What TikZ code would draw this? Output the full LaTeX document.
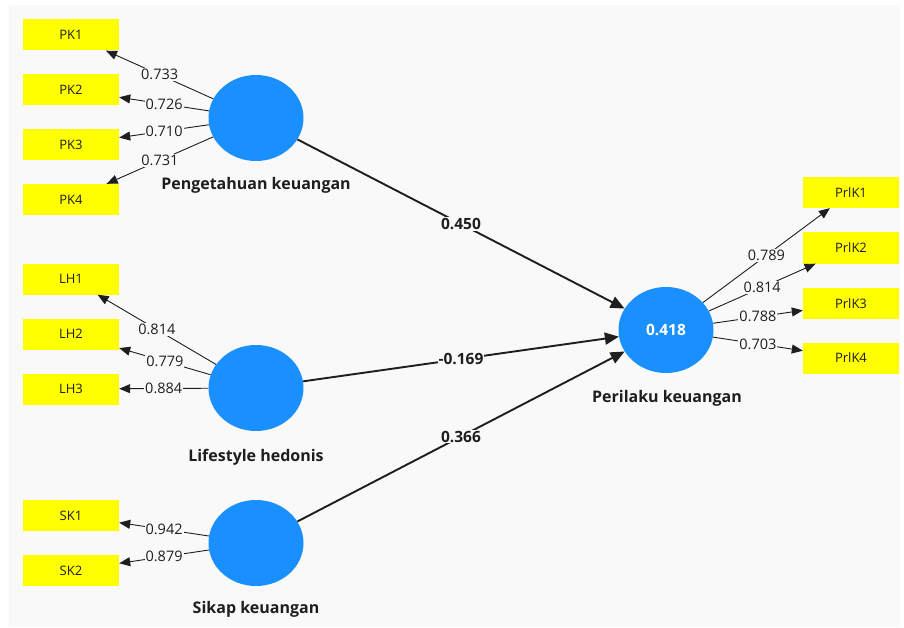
\documentclass[tikz,border=0pt]{standalone}
\usepackage{fontspec}
\setmainfont{Open Sans}
\usetikzlibrary{arrows.meta,shapes.geometric}
\definecolor{panel}{HTML}{F9F9F9}
\definecolor{lvblue}{HTML}{1A90FF}
\definecolor{indyellow}{HTML}{FFFF00}
\definecolor{txt}{HTML}{1E1E1E}
\tikzset{
  ind/.style={rectangle, fill=indyellow, minimum width=96pt, minimum height=31pt, inner sep=0pt, font=\fontsize{13}{15}\selectfont, text=txt},
  lv/.style={ellipse, fill=lvblue, minimum width=95pt, minimum height=86pt, inner sep=0pt},
  lvname/.style={font=\fontsize{16}{18}\bfseries\selectfont, text=txt},
  load/.style={draw=txt, line width=0.9pt, -{Triangle[length=11pt,width=9pt]}},
  path/.style={draw=txt, line width=1.9pt, -{Triangle[length=14pt,width=12pt]}},
  lbl/.style={fill=panel, inner sep=1pt, font=\fontsize{14.5}{16}\selectfont, text=txt},
  plbl/.style={fill=panel, inner sep=1pt, font=\fontsize{15.5}{17}\bfseries\selectfont, text=txt}
}
\begin{document}
\begin{tikzpicture}[x=1pt,y=-1pt]
\useasboundingbox (0,0) rectangle (904,628);
\fill[panel] (9,5) rectangle (900,627);
% latent variables
\node[lv] (PK) at (256,118) {};
\node[lv] (LH) at (256,388) {};
\node[lv] (SK) at (256,543) {};
\node[lv] (PRL) at (666,330) {\fontsize{15.5}{17}\bfseries\selectfont\color{white}0.418};
\node[lvname] (PKn) at (256,185) {Pengetahuan keuangan};
\node[lvname] (LHn) at (256,457) {Lifestyle hedonis};
\node[lvname] (SKn) at (256,609) {Sikap keuangan};
\node[lvname] (PRLn) at (667,398) {Perilaku keuangan};
% indicators
\node[ind] (PK1) at (71,35) {PK1};
\node[ind] (PK2) at (71,90) {PK2};
\node[ind] (PK3) at (71,144.5) {PK3};
\node[ind] (PK4) at (71,199.5) {PK4};
\node[ind] (LH1) at (71,279) {LH1};
\node[ind] (LH2) at (71,334) {LH2};
\node[ind] (LH3) at (71,389) {LH3};
\node[ind] (SK1) at (71,515.5) {SK1};
\node[ind] (SK2) at (71,570.5) {SK2};
\node[ind] (P1) at (851,192.5) {PrlK1};
\node[ind] (P2) at (851,248) {PrlK2};
\node[ind] (P3) at (851,303.5) {PrlK3};
\node[ind] (P4) at (851,358) {PrlK4};
% loadings
\draw[load] (PK) -- node[lbl] {0.733} (PK1);
\draw[load] (PK) -- node[lbl] {0.726} (PK2);
\draw[load] (PK) -- node[lbl] {0.710} (PK3);
\draw[load] (PK) -- node[lbl] {0.731} (PK4);
\draw[load] (LH) -- node[lbl] {0.814} (LH1);
\draw[load] (LH) -- node[lbl] {0.779} (LH2);
\draw[load] (LH) -- node[lbl] {0.884} (LH3);
\draw[load] (SK) -- node[lbl] {0.942} (SK1);
\draw[load] (SK) -- node[lbl] {0.879} (SK2);
\draw[load] (PRL) -- node[lbl] {0.789} (P1);
\draw[load] (PRL) -- node[lbl] {0.814} (P2);
\draw[load] (PRL) -- node[lbl] {0.788} (P3);
\draw[load] (PRL) -- node[lbl] {0.703} (P4);
% structural paths
\draw[path] (PK) -- node[plbl] {0.450} (PRL);
\draw[path] (LH) -- node[plbl] {-0.169} (PRL);
\draw[path] (SK) -- node[plbl] {0.366} (PRL);
\end{tikzpicture}
\end{document}
